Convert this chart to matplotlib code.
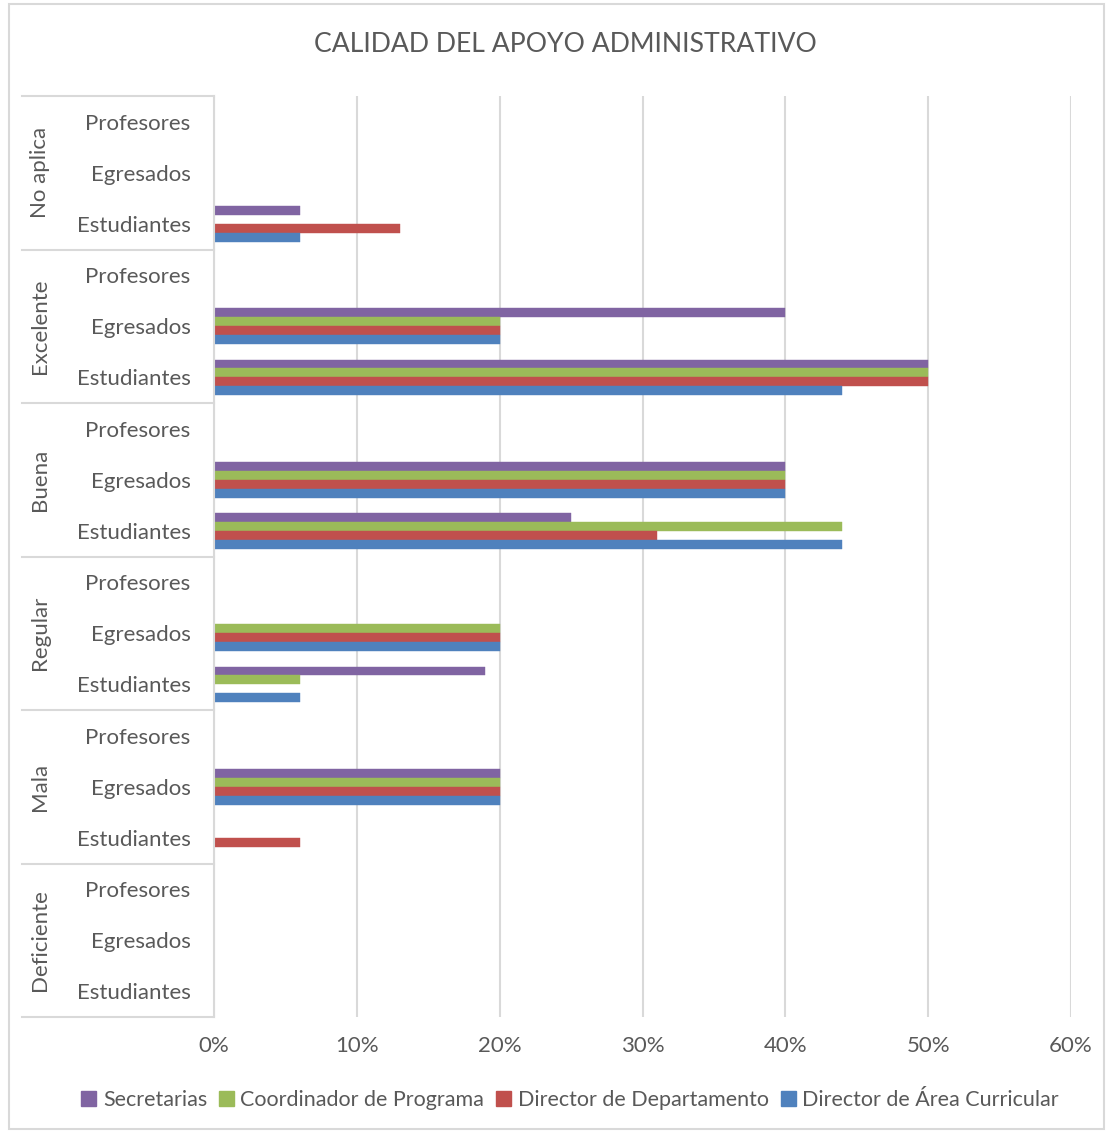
import matplotlib
matplotlib.use("Agg")
import matplotlib.pyplot as plt
from matplotlib.patches import Rectangle, Patch
import numpy as np

plt.rcParams['font.family'] = ['Lato', 'DejaVu Sans']

# Categories (top to bottom as displayed)
groups = ["No aplica", "Excelente", "Buena", "Regular", "Mala", "Deficiente"]
subcats = ["Profesores", "Egresados", "Estudiantes"]
series = ["Secretarias", "Coordinador de Programa", "Director de Departamento", "Director de Área Curricular"]
colors = ["#8064A2", "#9BBB59", "#C0504D", "#4F81BD"]

# Values in % per group, per subcategory [Profesores, Egresados, Estudiantes]
secretarias = {
    "No aplica": [0, 0, 6], "Excelente": [0, 40, 50], "Buena": [0, 40, 25],
    "Regular": [0, 0, 19], "Mala": [0, 20, 0], "Deficiente": [0, 0, 0]}
coordinador = {
    "No aplica": [0, 0, 0], "Excelente": [0, 20, 50], "Buena": [0, 40, 44],
    "Regular": [0, 20, 6], "Mala": [0, 20, 0], "Deficiente": [0, 0, 0]}
dir_departamento = {
    "No aplica": [0, 0, 13], "Excelente": [0, 20, 50], "Buena": [0, 40, 31],
    "Regular": [0, 20, 0], "Mala": [0, 20, 6], "Deficiente": [0, 0, 0]}
dir_area = {
    "No aplica": [0, 0, 6], "Excelente": [0, 20, 44], "Buena": [0, 40, 44],
    "Regular": [0, 20, 6], "Mala": [0, 20, 0], "Deficiente": [0, 0, 0]}
xticks = [0, 10, 20, 30, 40, 50, 60]

all_series = [secretarias, coordinador, dir_departamento, dir_area]

W, H = 1108, 1132
fig = plt.figure(figsize=(W / 100, H / 100), dpi=100)
ax = fig.add_axes([214 / W, 1 - 1017 / H, (1071 - 214) / W, (1017 - 96) / H])

n = len(groups) * len(subcats)
labels = []
ypos = []
for gi, g in enumerate(groups):
    for si, s in enumerate(subcats):
        ypos.append(n - 1 - (gi * 3 + si))
        labels.append(s)
ypos = np.array(ypos)

h = 0.175
offsets = [1.5 * h, 0.5 * h, -0.5 * h, -1.5 * h]
for k, (sd, col) in enumerate(zip(all_series, colors)):
    vals = []
    for g in groups:
        vals.extend(sd[g])
    ax.barh(ypos + offsets[k], vals, height=h, color=col, label=series[k], zorder=3,
            edgecolor=col, linewidth=0.3)

ax.set_xlim(0, 60)
ax.set_ylim(-0.5, n - 0.5)
ax.set_xticks(xticks)
ax.set_xticklabels([f"{t}%" for t in xticks])
ax.set_yticks(ypos)
ax.set_yticklabels(labels)
ax.tick_params(axis='both', length=0, labelsize=16, colors="#595959")
ax.tick_params(axis='y', pad=17)
ax.tick_params(axis='x', pad=14)
ax.grid(axis='x', color="#D9D9D9", linewidth=1.5, zorder=0)
for sp in ["top", "right", "bottom"]:
    ax.spines[sp].set_visible(False)
ax.spines["left"].set_color("#D9D9D9")
ax.spines["left"].set_linewidth(1.5)
ax.spines["left"].set_zorder(4)

# Group separators and labels
tr = ax.get_yaxis_transform()
x_left = (22 - 214) / (1071 - 214)
for b in np.arange(-0.5, n, 3):
    ax.plot([x_left, 0], [b, b], transform=tr, color="#D9D9D9", linewidth=1.5, clip_on=False)
x_grp = (40 - 214) / (1071 - 214)
for gi, g in enumerate(groups):
    yc = n - 1 - (gi * 3 + 1)
    ax.text(x_grp, yc, g, transform=tr, rotation=90, ha="center", va="center",
            fontsize=16, color="#595959")

fig.text(565 / W, 1 - 44 / H, "CALIDAD DEL APOYO ADMINISTRATIVO", ha="center", va="center",
         fontsize=19.2, color="#595959")

handles = [Patch(facecolor=c, edgecolor=c) for c in colors]
fig.legend(handles, series, loc="center", bbox_to_anchor=(570 / W, 1 - 1100 / H), ncol=4,
           frameon=False, fontsize=15.5, handlelength=0.7, handleheight=0.7, handletextpad=0.3,
           columnspacing=0.55, labelcolor="#595959")

fig.patches.append(Rectangle((9 / W, 1 - 1129 / H), (1104 - 9) / W, (1129 - 4) / H,
                             transform=fig.transFigure, fill=False, edgecolor="#D9D9D9",
                             linewidth=1.5))

fig.savefig("out.png", dpi=100)
